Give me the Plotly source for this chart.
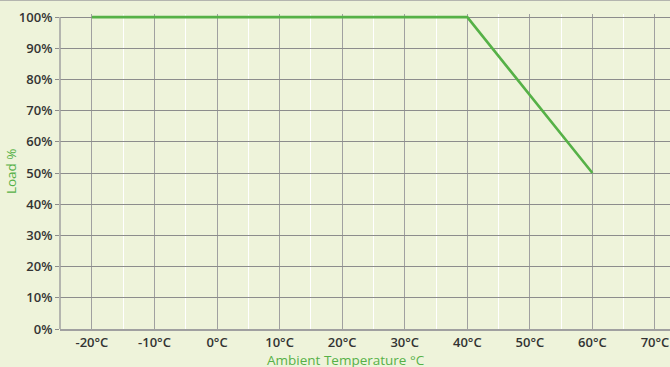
import plotly.graph_objects as go

# Derating curve: ambient temperature (°C) vs allowed load (%)
temps = [-20, 40, 60]
load = [100, 100, 50]

x_ticks = [-20, -10, 0, 10, 20, 30, 40, 50, 60, 70]
x_labels = [f"{t}°C" for t in x_ticks]
y_ticks = [0, 10, 20, 30, 40, 50, 60, 70, 80, 90, 100]
y_labels = [f"{t}%" for t in y_ticks]

bg = "#eef3da"
green = "#56b147"
axis_gray = "#a0a0a0"
tick_font = dict(family="Open Sans", size=13, color="#333333", weight=600)
title_font = dict(family="Open Sans", size=13.5, color=green, weight=500)

fig = go.Figure()
fig.add_trace(go.Scatter(
    x=temps, y=load, mode="lines",
    line=dict(color=green, width=2.6),
    hoverinfo="skip", showlegend=False,
))

# y range runs a little past 100 so the flat top segment is not clipped
fig.update_layout(
    width=670, height=367,
    margin=dict(l=60, r=0, t=14, b=38),
    paper_bgcolor=bg, plot_bgcolor=bg,
    xaxis=dict(
        range=[-25.1, 72.4], tickvals=x_ticks, ticktext=x_labels,
        tickfont=tick_font, showgrid=True, gridcolor=axis_gray, gridwidth=1,
        minor=dict(dtick=10, tick0=-15, showgrid=True, gridcolor="#ffffff", gridwidth=1),
        showline=True, linecolor=axis_gray, linewidth=2, ticks="", zeroline=False,
        fixedrange=True,
    ),
    yaxis=dict(
        range=[0, 101], tickvals=y_ticks, ticktext=y_labels,
        tickfont=tick_font, showgrid=True, gridcolor="#8c8c8c", gridwidth=1,
        showline=False,
        ticks="outside", ticklen=4, tickcolor="#8c8c8c", zeroline=False,
        fixedrange=True,
    ),
    shapes=[
        # border line across the top of the chart
        dict(type="line", xref="paper", yref="paper", x0=-0.1, x1=1.0,
             y0=1.045, y1=1.045, line=dict(color=axis_gray, width=2)),
        # left axis line, from 0% up to 100%
        dict(type="line", xref="paper", yref="y", x0=0, x1=0,
             y0=0, y1=100, line=dict(color=axis_gray, width=1.5), layer="above"),
    ],
    annotations=[
        dict(text="Load %", xref="paper", yref="paper", x=-0.081, y=0.5,
             xanchor="center", yanchor="middle", textangle=-90, showarrow=False,
             font=title_font),
        dict(text="Ambient Temperature °C", xref="paper", yref="paper",
             x=(346 - 60) / 610, y=-0.099, xanchor="center", yanchor="middle",
             showarrow=False, font=title_font),
    ],
)

fig.write_html("out.html")
